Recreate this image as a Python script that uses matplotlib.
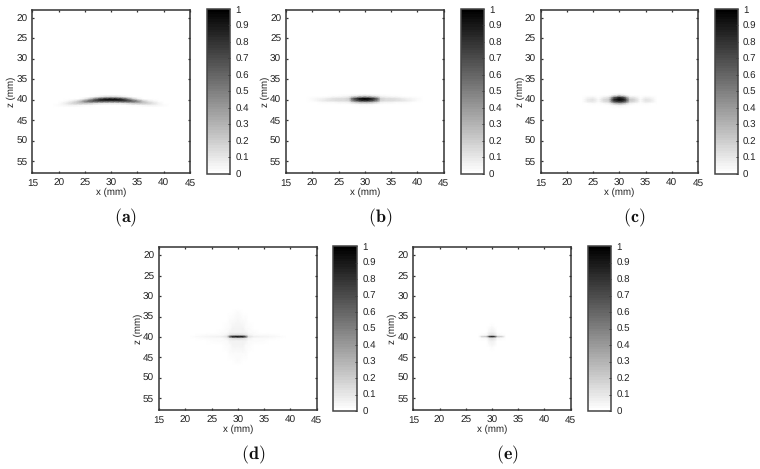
"""Five beam-pattern panels with their grey colorbars."""
import matplotlib
matplotlib.use("Agg")
import matplotlib.pyplot as plt

plt.rcParams["font.family"] = ["Liberation Sans", "DejaVu Sans"]
plt.rcParams["mathtext.fontset"] = "cm"
plt.rcParams["text.hinting"] = "none"

W, H = 760, 469
TEXT = "#222222"
FRAME = "#333333"

x_ticks = [15, 20, 25, 30, 35, 40, 45]
z_ticks = [20, 25, 30, 35, 40, 45, 50, 55]
cbar_ticks = [0, 0.1, 0.2, 0.3, 0.4, 0.5, 0.6, 0.7, 0.8, 0.9, 1]

# values, rows are z, columns are x
a_x = [17, 18, 19, 20, 21, 22, 23, 24, 25, 26, 27, 28, 29, 30, 31, 32, 33, 34, 35, 36, 37, 38, 39, 40, 41, 42, 43]
a_z = [38.9, 39.4, 39.9, 40.4, 40.9, 41.4, 41.9, 42.4]
a_values = [
    [0, 0, 0, 0, 0, 0, 0, 0, 0, 0, 0, 0, 0, 0, 0, 0, 0, 0, 0, 0, 0, 0, 0, 0, 0, 0, 0],
    [0, 0, 0, 0, 0, 0, 0, 0, 0, .01, .04, .10, .16, .18, .16, .10, .04, .01, 0, 0, 0, 0, 0, 0, 0, 0, 0],
    [0, 0, 0, 0, 0, 0, 0, 0, .08, .28, .58, .84, .96, 1, .96, .84, .58, .28, .08, 0, 0, 0, 0, 0, 0, 0, 0],
    [0, 0, 0, 0, .01, .04, .10, .24, .50, .70, .78, .80, .78, .76, .78, .80, .78, .70, .50, .24, .10, .04, .01, 0, 0, 0, 0],
    [0, 0, 0, .01, .05, .14, .20, .24, .26, .22, .16, .12, .10, .10, .10, .12, .16, .22, .26, .24, .20, .14, .05, .01, 0, 0, 0],
    [0, 0, .01, .02, .04, .05, .05, .04, .03, .02, .01, 0, 0, 0, 0, 0, .01, .02, .03, .04, .05, .05, .04, .02, .01, 0, 0],
    [0, .01, .01, .01, .01, .01, 0, 0, 0, 0, 0, 0, 0, 0, 0, 0, 0, 0, 0, 0, 0, .01, .01, .01, .01, .01, 0],
    [0, 0, 0, 0, 0, 0, 0, 0, 0, 0, 0, 0, 0, 0, 0, 0, 0, 0, 0, 0, 0, 0, 0, 0, 0, 0, 0],
]

b_x = [17, 18, 19, 20, 21, 22, 23, 24, 25, 26, 27, 27.5, 28, 29, 30, 31, 32, 32.5, 33, 34, 35, 36, 37, 38, 39, 40, 41, 42, 43]
b_z = [38.75, 39.25, 39.75, 40.25, 40.75, 41.25, 41.75]
b_values = [
    [0, 0, 0, 0, 0, 0, 0, 0, 0, 0, 0, 0, 0, 0, 0, 0, 0, 0, 0, 0, 0, 0, 0, 0, 0, 0, 0, 0, 0],
    [0, 0, 0, 0, 0, 0, 0, .02, .03, .04, .05, .08, .12, .20, .24, .20, .12, .08, .05, .04, .03, .02, 0, 0, 0, 0, 0, 0, 0],
    [0, 0, .01, .02, .04, .06, .09, .11, .13, .14, .18, .50, .68, .92, 1, .92, .68, .50, .18, .14, .13, .11, .09, .06, .04, .02, .01, 0, 0],
    [0, 0, .01, .02, .05, .08, .11, .13, .15, .15, .18, .48, .62, .84, .90, .84, .62, .48, .18, .15, .15, .13, .11, .08, .05, .02, .01, 0, 0],
    [0, 0, 0, 0, .01, .02, .03, .03, .04, .04, .05, .12, .16, .24, .26, .24, .16, .12, .05, .04, .04, .03, .03, .02, .01, 0, 0, 0, 0],
    [0, 0, 0, 0, 0, 0, 0, 0, 0, 0, 0, 0, .01, .02, .02, .02, .01, 0, 0, 0, 0, 0, 0, 0, 0, 0, 0, 0, 0],
    [0, 0, 0, 0, 0, 0, 0, 0, 0, 0, 0, 0, 0, 0, 0, 0, 0, 0, 0, 0, 0, 0, 0, 0, 0, 0, 0, 0, 0],
]

c_x = [23, 24, 25, 26, 27, 28, 28.6, 29, 30, 31, 31.4, 32, 33, 34, 35, 36, 37]
c_z = [38.5, 39, 39.5, 40, 40.5, 41, 41.5, 42]
c_values = [
    [0, 0, 0, 0, 0, 0, 0, 0, 0, 0, 0, 0, 0, 0, 0, 0, 0],
    [0, 0, 0, 0, 0, .01, .03, .06, .16, .06, .03, .01, 0, 0, 0, 0, 0],
    [0, .04, .06, .01, .07, .12, .38, .62, .85, .62, .38, .12, .08, 0, .05, .04, 0],
    [0, .09, .12, .03, .15, .20, .62, .85, 1, .85, .62, .22, .17, .02, .11, .09, 0],
    [0, .08, .10, .03, .14, .18, .55, .72, .85, .72, .55, .20, .15, .02, .10, .08, 0],
    [0, .01, .02, 0, .03, .05, .14, .22, .32, .22, .14, .05, .03, 0, .02, .01, 0],
    [0, 0, 0, 0, 0, .01, .02, .03, .05, .03, .02, .01, 0, 0, 0, 0, 0],
    [0, 0, 0, 0, 0, 0, 0, 0, 0, 0, 0, 0, 0, 0, 0, 0, 0],
]

d_x = [21, 22, 24, 26, 27, 28, 28.5, 29, 30, 31, 31.5, 32, 33, 34, 36, 38, 39]
d_z = [33, 34, 36, 38, 39, 39.6, 40, 40.4, 41, 42, 44, 46, 47]
d_values = [
    [0, 0, 0, 0, 0, 0, 0, 0, 0, 0, 0, 0, 0, 0, 0, 0, 0],
    [0, 0, 0, 0, 0, 0, 0, .01, .02, .01, 0, 0, 0, 0, 0, 0, 0],
    [0, 0, 0, 0, 0, .01, .02, .03, .04, .03, .02, .01, 0, 0, 0, 0, 0],
    [0, 0, 0, 0, .01, .02, .03, .05, .05, .05, .03, .02, .01, 0, 0, 0, 0],
    [0, 0, .01, .01, .02, .03, .05, .06, .06, .06, .05, .03, .02, .01, .01, 0, 0],
    [0, .01, .02, .03, .03, .05, .10, .13, .15, .13, .10, .05, .03, .03, .02, .01, 0],
    [.01, .02, .04, .06, .07, .14, .70, .95, 1, .95, .70, .14, .07, .06, .04, .02, .01],
    [0, .01, .02, .03, .03, .05, .10, .13, .15, .13, .10, .05, .03, .03, .02, .01, 0],
    [0, 0, .01, .02, .02, .03, .05, .06, .06, .06, .05, .03, .02, .02, .01, 0, 0],
    [0, 0, 0, 0, .01, .02, .03, .05, .05, .05, .03, .02, .01, 0, 0, 0, 0],
    [0, 0, 0, 0, 0, .01, .02, .03, .03, .03, .02, .01, 0, 0, 0, 0, 0],
    [0, 0, 0, 0, 0, 0, 0, .01, .02, .01, 0, 0, 0, 0, 0, 0, 0],
    [0, 0, 0, 0, 0, 0, 0, 0, 0, 0, 0, 0, 0, 0, 0, 0, 0],
]

e_x = [27.5, 28, 29, 29.5, 30, 30.5, 31, 32, 32.5]
e_z = [36.5, 37.5, 39, 39.7, 40, 40.3, 41, 42.5, 43.5]
e_values = [
    [0, 0, 0, 0, 0, 0, 0, 0, 0],
    [0, 0, 0, .01, .02, .01, 0, 0, 0],
    [0, 0, 0, .05, .07, .05, 0, 0, 0],
    [0, .02, .04, .12, .15, .12, .04, .02, 0],
    [0, .18, .26, .85, 1, .85, .26, .18, 0],
    [0, .02, .04, .12, .15, .12, .04, .02, 0],
    [0, 0, 0, .05, .07, .05, 0, 0, 0],
    [0, 0, 0, .01, .02, .01, 0, 0, 0],
    [0, 0, 0, 0, 0, 0, 0, 0, 0],
]

TOP_ROW = (9.7, 173.3, 9.0, 173.8)
BOTTOM_ROW = (247.3, 410.3, 246.0, 411.0)

# name, x grid, z grid, values, axes left/right, colorbar left/right, row, label x
panels = [
    ("a", a_x, a_z, a_values, 32.3, 190.0, 206.7, 230.3, TOP_ROW, 126),
    ("b", b_x, b_z, b_values, 286.0, 443.7, 460.7, 484.0, TOP_ROW, 380),
    ("c", c_x, c_z, c_values, 540.7, 698.0, 714.7, 738.0, TOP_ROW, 634),
    ("d", d_x, d_z, d_values, 159.0, 316.7, 333.3, 357.3, BOTTOM_ROW, 253),
    ("e", e_x, e_z, e_values, 413.3, 570.7, 587.7, 611.3, BOTTOM_ROW, 507),
]


def box(left, right, top, bottom):
    return [left / W, 1 - bottom / H, (right - left) / W, (bottom - top) / H]


fig = plt.figure(figsize=(W / 100, H / 100), dpi=100)
cmap = plt.get_cmap("gray_r", 64)

for name, xs, zs, values, ax_l, ax_r, cb_l, cb_r, row, label_x in panels:
    ax = fig.add_axes(box(ax_l, ax_r, row[0], row[1]))
    mesh = ax.pcolormesh(xs, zs, values, shading="gouraud", cmap=cmap, vmin=0, vmax=1)
    ax.set_xlim(15, 45)
    ax.set_ylim(58, 18)
    ax.set_xticks(x_ticks)
    ax.set_yticks(z_ticks)
    ax.tick_params(direction="in", top=True, right=True, length=1.5, width=0.9,
                   color=FRAME, labelsize=7.2, labelcolor=TEXT, pad=3.5)
    ax.set_xlabel("x (mm)", fontsize=7.0, color=TEXT, labelpad=0.0)
    ax.set_ylabel("z (mm)", fontsize=7.0, color=TEXT, labelpad=0.0)
    for spine in ax.spines.values():
        spine.set_linewidth(1.1)
        spine.set_color(FRAME)

    cax = fig.add_axes(box(cb_l, cb_r, row[2], row[3]))
    cbar = fig.colorbar(mesh, cax=cax, ticks=cbar_ticks, format="%g")
    cbar.ax.tick_params(direction="in", length=1.2, width=0.7, color=FRAME,
                        labelsize=7.0, labelcolor=TEXT, pad=3.5)
    cbar.outline.set_linewidth(1.1)
    cbar.outline.set_edgecolor("#444444")

    fig.text(label_x / W, 1 - (row[1] + 45) / H, rf"$(\mathbf{{{name}}})$",
             fontsize=13.0, color="#111111", ha="center", va="center")

fig.savefig("out.png", dpi=100)
plt.close(fig)
